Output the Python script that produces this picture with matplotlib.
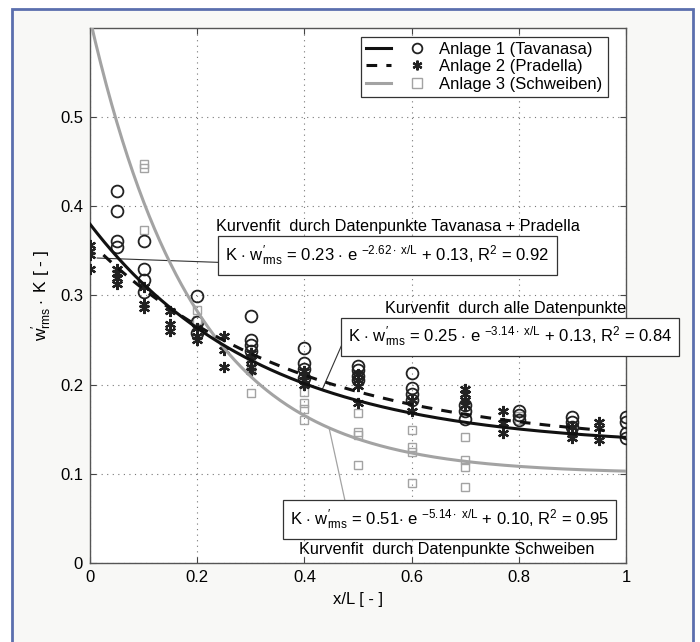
import numpy as np
import matplotlib
matplotlib.use('Agg')
import matplotlib.pyplot as plt
from matplotlib.patches import Rectangle
from matplotlib.legend_handler import HandlerTuple
from matplotlib.lines import Line2D

plt.rcParams['font.family'] = ['Liberation Sans', 'DejaVu Sans']
plt.rcParams['mathtext.fontset'] = 'custom'
plt.rcParams['mathtext.rm'] = 'Liberation Sans'
plt.rcParams['mathtext.it'] = 'Liberation Sans:italic'

# Anlage 1 (Tavanasa) - circles
a1_x = [0.05, 0.05, 0.05, 0.05, 0.1, 0.1, 0.1, 0.1, 0.2, 0.2, 0.2,
        0.3, 0.3, 0.3, 0.3, 0.4, 0.4, 0.4, 0.4, 0.5, 0.5, 0.5, 0.5,
        0.6, 0.6, 0.6, 0.6, 0.7, 0.7, 0.7, 0.8, 0.8, 0.8,
        0.9, 0.9, 0.9, 1.0, 1.0, 1.0, 1.0]
a1_y = [0.417, 0.395, 0.361, 0.354, 0.361, 0.330, 0.317, 0.304, 0.299, 0.270, 0.258,
        0.277, 0.250, 0.244, 0.238, 0.241, 0.224, 0.218, 0.207, 0.221, 0.216, 0.210, 0.205,
        0.213, 0.196, 0.190, 0.183, 0.177, 0.171, 0.162, 0.171, 0.166, 0.160,
        0.164, 0.158, 0.152, 0.164, 0.158, 0.146, 0.140]

# Anlage 2 (Pradella) - asterisks
a2_x = [0.0, 0.0, 0.0, 0.0, 0.05, 0.05, 0.05, 0.05, 0.1, 0.1, 0.1,
        0.15, 0.15, 0.15, 0.2, 0.2, 0.2, 0.25, 0.25, 0.25,
        0.3, 0.3, 0.3, 0.3, 0.4, 0.4, 0.4, 0.4, 0.5, 0.5, 0.5, 0.5,
        0.6, 0.6, 0.7, 0.7, 0.7, 0.7, 0.77, 0.77, 0.77,
        0.9, 0.9, 0.9, 0.95, 0.95, 0.95]
a2_y = [0.357, 0.350, 0.345, 0.330, 0.330, 0.325, 0.320, 0.313, 0.310, 0.291, 0.286,
        0.283, 0.268, 0.260, 0.264, 0.255, 0.250, 0.255, 0.239, 0.220,
        0.235, 0.228, 0.220, 0.215, 0.215, 0.210, 0.205, 0.200, 0.212, 0.205, 0.199, 0.179,
        0.183, 0.171, 0.195, 0.190, 0.183, 0.177, 0.171, 0.157, 0.146,
        0.152, 0.145, 0.140, 0.158, 0.151, 0.138]

# Anlage 3 (Schweiben) - squares
a3_x = [0.1, 0.1, 0.1, 0.2, 0.2, 0.3, 0.3, 0.3, 0.4, 0.4, 0.4, 0.4,
        0.5, 0.5, 0.5, 0.5, 0.6, 0.6, 0.6, 0.6, 0.7, 0.7, 0.7, 0.7, 0.8, 0.8]
a3_y = [0.448, 0.443, 0.373, 0.284, 0.272, 0.228, 0.216, 0.191, 0.192, 0.179, 0.173, 0.160,
        0.168, 0.147, 0.143, 0.110, 0.149, 0.130, 0.125, 0.090, 0.141, 0.115, 0.108, 0.085,
        0.165, 0.160]

# fit parameters: a * exp(-b * x/L) + c
fit_tp = (0.23, 2.62, 0.13)    # Tavanasa + Pradella
fit_all = (0.25, 3.14, 0.13)   # alle Datenpunkte
fit_sw = (0.51, 5.14, 0.10)    # Schweiben

labels = ['Anlage 1 (Tavanasa)', 'Anlage 2 (Pradella)', 'Anlage 3 (Schweiben)']
xticks = [0, 0.2, 0.4, 0.6, 0.8, 1]
yticks = [0, 0.1, 0.2, 0.3, 0.4, 0.5]


def fit(p, x):
    return p[0] * np.exp(-p[1] * np.asarray(x)) + p[2]


fig = plt.figure(figsize=(7, 6.42), dpi=100)
fig.patch.set_facecolor('white')
fig.patches.append(Rectangle((0.017, -0.02), 0.973, 1.006, transform=fig.transFigure,
                             facecolor='#f8f8f6', edgecolor='#5b6fae', lw=2, zorder=-10))

ax = fig.add_axes([0.1286, 0.1231, 0.7657, 0.8333])
ax.set_facecolor('white')

gray = '#a3a3a3'
star = (6, 2, 0)

ax.plot(a3_x, a3_y, ls='none', marker='s', ms=6, mfc='none', mec=gray, mew=1.0, zorder=3)
ax.plot(a1_x, a1_y, ls='none', marker='o', ms=8.5, mfc='none', mec='#222222', mew=1.3, zorder=4)
ax.plot(a2_x, a2_y, ls='none', marker=star, ms=8, mec='#222222', mew=1.6, zorder=4)

xs = np.linspace(0, 1, 300)
xd = np.linspace(0.025, 0.96, 300)
l3, = ax.plot(xs, fit(fit_sw, xs), color=gray, lw=2.2, zorder=5)
l1, = ax.plot(xs, fit(fit_all, xs), color='#111111', lw=2.2, zorder=6)
l2, = ax.plot(xd, fit(fit_tp, xd), color='#111111', lw=2.2, ls=(0, (3.5, 3)), zorder=6)

ax.set_xlim(0, 1)
ax.set_ylim(0, 0.6)
ax.set_xticks(xticks)
ax.set_xticklabels(['0', '0.2', '0.4', '0.6', '0.8', '1'])
ax.set_yticks(yticks)
ax.set_yticklabels(['0', '0.1', '0.2', '0.3', '0.4', '0.5'])
ax.tick_params(direction='in', length=4, labelsize=12, color='#444444', pad=5,
               top=True, right=True)
ax.grid(True, ls=(0, (1, 4)), color='#777777', lw=0.8)
for s in ax.spines.values():
    s.set_color('#555555')
    s.set_linewidth(1.0)

ax.set_xlabel('x/L [ - ]', fontsize=12, labelpad=5)
ax.set_ylabel(r'$\mathrm{w}^{\prime}_{\mathrm{rms}}\cdot$ K [ - ]', fontsize=12.5, labelpad=4)

# legend: line followed by marker
h1 = (Line2D([], [], color='#111111', lw=2.2),
      Line2D([], [], ls='none', marker='o', ms=7, mfc='none', mec='#222222', mew=1.3))
h2 = (Line2D([], [], color='#111111', lw=2.2, ls=(0, (3.5, 3))),
      Line2D([], [], ls='none', marker=star, ms=7, mec='#222222', mew=1.6))
h3 = (Line2D([], [], color=gray, lw=2.2),
      Line2D([], [], ls='none', marker='s', ms=7, mfc='none', mec=gray, mew=1.0))
leg = ax.legend([h1, h2, h3], labels, handler_map={tuple: HandlerTuple(ndivide=None, pad=0.8)},
                loc='upper right', bbox_to_anchor=(0.972, 0.99), fontsize=12,
                handlelength=3.8, handletextpad=0.6, labelspacing=0.15, borderpad=0.3,
                borderaxespad=0.2, fancybox=False, framealpha=1, edgecolor='#333333')
leg.get_frame().set_linewidth(0.9)

box = dict(boxstyle='square,pad=0.42', facecolor='white', edgecolor='#333333', lw=0.9)
eq_fs = 12
note_fs = 11.7

# Tavanasa + Pradella
ax.annotate('', xy=(0.013, 0.342), xytext=(0.246, 0.337),
            arrowprops=dict(arrowstyle='-', color='#333333', lw=0.8, shrinkA=0, shrinkB=0))
ax.text(0.555, 0.345, r'K $\cdot$ $\mathrm{w}^{\prime}_{\mathrm{rms}}$ = 0.23 $\cdot$ e $^{-2.62\cdot\ \mathrm{x/L}}$ + 0.13, R$^2$ = 0.92',
        ha='center', va='center', fontsize=eq_fs, bbox=box, zorder=10)
ax.text(0.575, 0.377, 'Kurvenfit  durch Datenpunkte Tavanasa + Pradella',
        ha='center', va='center', fontsize=note_fs, zorder=10)

# alle Datenpunkte
ax.annotate('', xy=(0.433, fit(fit_all, 0.433)), xytext=(0.470, 0.245),
            arrowprops=dict(arrowstyle='-', color='#333333', lw=0.8, shrinkA=0, shrinkB=0))
ax.text(0.783, 0.2536, r'K $\cdot$ $\mathrm{w}^{\prime}_{\mathrm{rms}}$ = 0.25 $\cdot$ e $^{-3.14\cdot\ \mathrm{x/L}}$ + 0.13, R$^2$ = 0.84',
        ha='center', va='center', fontsize=eq_fs, bbox=box, zorder=10, clip_on=False)
ax.text(0.775, 0.285, 'Kurvenfit  durch alle Datenpunkte',
        ha='center', va='center', fontsize=note_fs, zorder=10, clip_on=False)

# Schweiben
ax.annotate('', xy=(0.446, fit(fit_sw, 0.446)), xytext=(0.476, 0.069),
            arrowprops=dict(arrowstyle='-', color=gray, lw=0.9, shrinkA=0, shrinkB=0))
ax.text(0.671, 0.0487, r'K $\cdot$ $\mathrm{w}^{\prime}_{\mathrm{rms}}$ = 0.51$\cdot$ e $^{-5.14\cdot\ \mathrm{x/L}}$ + 0.10, R$^2$ = 0.95',
        ha='center', va='center', fontsize=eq_fs, bbox=box, zorder=10)
ax.text(0.666, 0.0155, 'Kurvenfit  durch Datenpunkte Schweiben',
        ha='center', va='center', fontsize=note_fs, zorder=10)

fig.savefig('out.png', dpi=100, facecolor=fig.get_facecolor())
